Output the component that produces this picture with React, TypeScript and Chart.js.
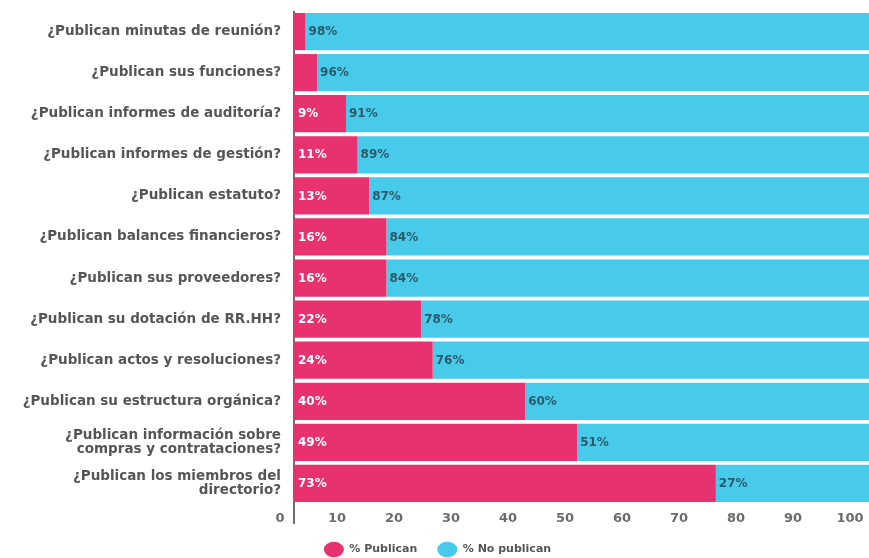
import { useEffect, useRef } from 'react';
import { Chart, registerables } from 'chart.js';

Chart.register(...registerables);

const categories: (string | string[])[] = [
  '¿Publican minutas de reunión?',
  '¿Publican sus funciones?',
  '¿Publican informes de auditoría?',
  '¿Publican informes de gestión?',
  '¿Publican estatuto?',
  '¿Publican balances financieros?',
  '¿Publican sus proveedores?',
  '¿Publican su dotación de RR.HH?',
  '¿Publican actos y resoluciones?',
  '¿Publican su estructura orgánica?',
  ['¿Publican información sobre', 'compras y contrataciones?'],
  ['¿Publican los miembros del', 'directorio?'],
];

const publican = [2, 4, 9, 11, 13, 16, 16, 22, 24, 40, 49, 73];
const noPublican = [98, 96, 91, 89, 87, 84, 84, 78, 76, 60, 51, 27];
const tickValues = [0, 10, 20, 30, 40, 50, 60, 70, 80, 90, 100];
const seriesNames = ['% Publican', '% No publican'];

const PINK = '#E8326F';
const CYAN = '#48CAEA';
const FONT = '"DejaVu Sans", sans-serif';

// range used only for placing the tick-label axis
const X2_MIN = 2.456;
const X2_MAX = 103.33;

const segLabels = {
  id: 'segLabels',
  afterDatasetsDraw(chart: any) {
    const ctx = chart.ctx;
    ctx.save();
    ctx.font = `bold 12px ${FONT}`;
    ctx.textBaseline = 'middle';
    ctx.textAlign = 'left';
    chart.data.datasets.forEach((ds: any, di: number) => {
      const meta = chart.getDatasetMeta(di);
      meta.data.forEach((el: any, i: number) => {
        const v = ds.data[i];
        if (di === 0 && v < 5) return;
        const p = el.getProps(['x', 'y', 'base'], true);
        const left = Math.min(p.x, p.base);
        ctx.fillStyle = di === 0 ? '#ffffff' : '#2d5a6b';
        ctx.fillText(v + '%', left + (di === 0 ? 4 : 3), p.y + 0.5);
      });
    });
    ctx.restore();
  },
};

export default function App() {
  const ref = useRef<HTMLCanvasElement | null>(null);

  useEffect(() => {
    document.body.style.margin = '0';
    const canvas = ref.current;
    if (!canvas) return;
    const chart = new Chart(canvas, {
      type: 'bar',
      data: {
        labels: categories as any,
        datasets: [
          {
            label: seriesNames[0],
            data: publican,
            backgroundColor: PINK,
            borderWidth: 0,
            xAxisID: 'x',
            categoryPercentage: 0.905,
            barPercentage: 1,
          },
          {
            label: seriesNames[1],
            data: noPublican,
            backgroundColor: CYAN,
            borderWidth: 0,
            xAxisID: 'x',
            categoryPercentage: 0.905,
            barPercentage: 1,
          },
        ],
      },
      options: {
        indexAxis: 'y',
        responsive: false,
        animation: false,
        layout: { padding: { top: 11, left: 6, right: 0, bottom: -7 } },
        plugins: {
          tooltip: { enabled: false },
          legend: {
            position: 'bottom',
            align: 'center',
            labels: {
              usePointStyle: true,
              pointStyle: 'circle',
              pointStyleWidth: 20,
              boxHeight: 11,
              padding: 20,
              color: '#555555',
              font: { family: FONT, size: 11, weight: 'bold' },
            },
          },
        },
        scales: {
          x: {
            display: false,
            stacked: true,
            min: 0,
            max: 99.5,
          },
          x2: {
            type: 'linear',
            position: 'bottom',
            min: X2_MIN,
            max: X2_MAX,
            afterBuildTicks: (axis: any) => {
              const vals = [tickValues[0], X2_MIN, ...tickValues.slice(1)];
              axis.ticks = vals.map((v) => ({ value: v }));
            },
            afterFit: (axis: any) => {
              axis.height = 20;
              axis.paddingLeft = 0;
              axis.paddingRight = 0;
              axis.paddingTop = 0;
              axis.paddingBottom = 0;
            },
            ticks: {
              autoSkip: false,
              maxRotation: 0,
              padding: -13.3,
              color: '#6b6b6b',
              font: { family: FONT, size: 13, weight: 'bold' },
              callback: (v: any) => (tickValues.includes(v) ? String(v) : ''),
            },
            grid: {
              drawOnChartArea: true,
              tickLength: 20,
              lineWidth: 2,
              color: (c: any) =>
                c.tick && Math.abs(c.tick.value - X2_MIN) < 1e-6 ? '#6e6e6e' : 'rgba(0,0,0,0)',
            },
            border: { display: false },
          },
          y: {
            stacked: true,
            afterFit: (axis: any) => {
              axis.width = 288;
              axis.paddingTop = 0;
              axis.paddingBottom = 0;
              axis.paddingLeft = 0;
              axis.paddingRight = 0;
            },
            grid: { display: false, drawTicks: false },
            border: { display: false },
            ticks: {
              padding: 13,
              color: '#555555',
              font: { family: FONT, size: 13.5, weight: 'bold', lineHeight: 1.0 },
            },
          },
        },
      },
      plugins: [segLabels],
    } as any);
    return () => chart.destroy();
  }, []);

  return (
    <div style={{ width: 869, height: 558, background: '#ffffff' }}>
      <canvas ref={ref} width={869} height={558} style={{ display: 'block' }} />
    </div>
  );
}
